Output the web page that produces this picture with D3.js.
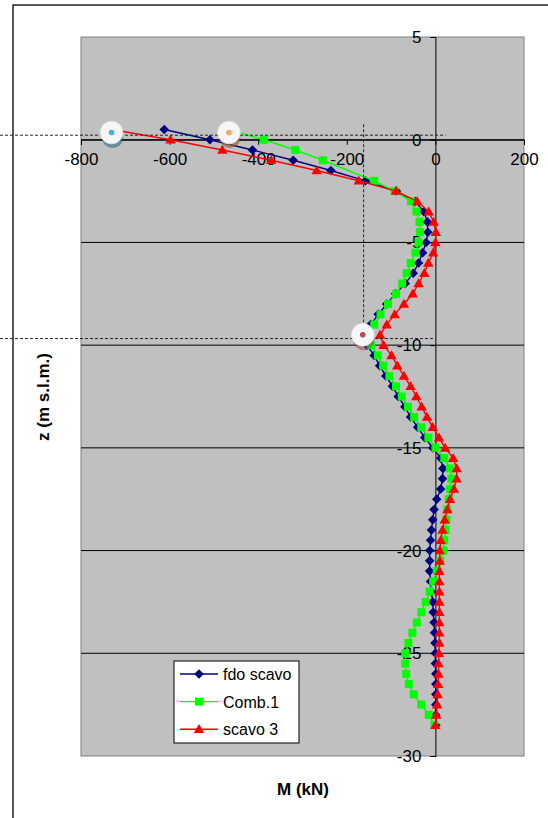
<!DOCTYPE html>
<html>
<head>
<meta charset="utf-8">
<script src="https://cdn.jsdelivr.net/npm/d3@7"></script>
<style>
  body { margin: 0; background: #fff; }
  svg { display: block; }
  text { font-family: "Liberation Sans", Arial, sans-serif; }
</style>
</head>
<body>
<svg id="chart" width="548" height="818"></svg>
<script>
// Depth levels (m s.l.m.) at which the bending moment is computed
const depths = [
  0.5, 0, -0.5, -1, -1.5, -2, -2.5, -3, -3.5, -4,
  -4.5, -5, -5.5, -6, -6.5, -7, -7.5, -8, -8.5, -9,
  -9.5, -10, -10.5, -11, -11.5, -12, -12.5, -13, -13.5, -14,
  -14.5, -15, -15.5, -16, -16.5, -17, -17.5, -18, -18.5, -19,
  -19.5, -20, -20.5, -21, -21.5, -22, -22.5, -23, -23.5, -24,
  -24.5, -25, -25.5, -26, -26.5, -27, -27.5, -28, -28.5
];

// Bending moment M (kN) per phase, one value per depth
const fdoScavo = [
  -612, -509, -413, -321, -236, -158, -88, -46, -26, -18,
  -17, -21, -29, -38, -50, -68, -90, -110, -129, -146,
  -163, -155, -138, -126, -112, -97, -84, -69, -56, -40,
  -24, -6, 12, 17, 16, 12, 3, -3, -6, -9,
  -11, -13, -13, -13, -11, -9, -6, -5, -3, -2,
  -1, 0, 0, 1, 1, 1, 1, 1, 1
];
const comb1 = [
  -470, -387, -316, -254, null, -138, -92, -55, -43, -36,
  -35, -38, -45, -56, -65, -75, -89, -107, -124, -138,
  -152, -145, -130, -118, -104, -89, -76, -62, -48, -32,
  -16, 0, 20, 33, 36, 33, 30, 27, 25, 23,
  20, 18, 11, 3, -5, -13, -22, -32, -42, -52,
  -61, -68, -68, -66, -60, -49, -32, -15, -2
];
const scavo3 = [
  -731, -598, -481, -371, -268, -173, -89, -41, -15, -4,
  1, 0, -5, -16, -25, -38, -51, -71, -92, -110,
  -125, -117, -99, -86, -71, -56, -43, -31, -19, -6,
  8, 22, 40, 48, 48, 42, 33, 27, 21, 16,
  12, 10, 10, 9, 9, 9, 9, 9, 9, 9,
  9, 8, 7, 7, 6, 5, 4, 2, 0
];

const seriesNames = ["fdo scavo", "Comb.1", "scavo 3"];
const seriesColors = ["#000080", "#00ff00", "#ff0000"];
const seriesShapes = ["diamond", "square", "triangle"];

const xTicks = [-800, -600, -400, -200, 0, 200];
const yTicks = [5, 0, -5, -10, -15, -20, -25, -30];

// Pinned reference points (M, z) with their colours
const pinM = [-731, -466, -164];
const pinZ = [0.35, 0.35, -9.5];
const pinDot = ["#4bb0d2", "#f7a35c", "#b94a4a"];
const pinShade = ["rgba(60,110,130,0.65)", "rgba(150,95,50,0.65)", "rgba(150,80,80,0.55)"];

// Guide lines: two levels and one moment value
const guideLevels = [0.22, -9.68];
const guideLevelEnds = [23, 0];
const guideMoment = -162;
const guideMomentTop = 0.75;

const svg = d3.select("#chart");

const x = d3.scaleLinear().domain([-800, 200]).range([81, 524]);
const y = d3.scaleLinear().domain([-30, 5]).range([756, 37]);

// outer chart frame (extends past the page on the right and bottom)
svg.append("rect")
  .attr("x", 13).attr("y", 5).attr("width", 700).attr("height", 900)
  .attr("fill", "#fff").attr("stroke", "#222").attr("stroke-width", 1.5);

// plot area
svg.append("rect")
  .attr("x", x(-800)).attr("y", y(5))
  .attr("width", x(200) - x(-800)).attr("height", y(-30) - y(5))
  .attr("fill", "#c0c0c0").attr("stroke", "#808080").attr("stroke-width", 1);

// horizontal gridlines
svg.append("g").selectAll("line")
  .data(yTicks.filter(t => t !== 5 && t !== -30))
  .join("line")
  .attr("x1", x(-800)).attr("x2", x(200))
  .attr("y1", d => y(d)).attr("y2", d => y(d))
  .attr("stroke", "#000").attr("stroke-width", 1);

// x axis crossing at z = 0
const xAxis = d3.axisBottom(x).tickValues(xTicks).tickSize(5).tickPadding(8)
  .tickFormat(d3.format("d"));
const gx = svg.append("g").attr("transform", `translate(0,${y(0)})`).call(xAxis);
gx.select(".domain").attr("stroke", "#000");
gx.selectAll(".tick line").attr("stroke", "#000");
gx.selectAll(".tick text").attr("font-size", 17).attr("fill", "#000")
  .attr("font-family", "'Liberation Sans', Arial, sans-serif")
  .text(d => d < 0 ? "-" + Math.abs(d) : d);

// y axis crossing at M = 0
const yAxis = d3.axisLeft(y).tickValues(yTicks).tickSize(5).tickPadding(9);
const gy = svg.append("g").attr("transform", `translate(${x(0)},0)`).call(yAxis);
gy.select(".domain").attr("stroke", "#000");
gy.selectAll(".tick line").attr("stroke", "#000");
gy.selectAll(".tick text").attr("font-size", 17).attr("fill", "#000")
  .attr("font-family", "'Liberation Sans', Arial, sans-serif")
  .text(d => d < 0 ? "-" + Math.abs(d) : d);

// marker shapes
function markerPath(shape) {
  if (shape === "diamond") return "M0,-4.8L4.8,0L0,4.8L-4.8,0Z";
  if (shape === "square") return "M-4,-4H4V4H-4Z";
  return "M0,-5.2L5.2,3.8H-5.2Z";
}

const allSeries = [fdoScavo, comb1, scavo3];
const line = d3.line().x(d => x(d.m)).y(d => y(d.z));

allSeries.forEach((vals, i) => {
  const pts = depths.map((z, k) => ({ z, m: vals[k] })).filter(p => p.m !== null);
  const g = svg.append("g");
  g.append("path").datum(pts)
    .attr("d", line).attr("fill", "none")
    .attr("stroke", seriesColors[i]).attr("stroke-width", 1.4);
  g.selectAll("path.mk").data(pts).join("path").attr("class", "mk")
    .attr("d", markerPath(seriesShapes[i]))
    .attr("transform", d => `translate(${x(d.m)},${y(d.z)})`)
    .attr("fill", seriesColors[i]);
});

// dotted guide lines
const guides = svg.append("g").attr("stroke", "#222").attr("stroke-width", 1)
  .attr("stroke-dasharray", "3,2");
guideLevels.forEach((lv, i) => {
  guides.append("line")
    .attr("x1", 0).attr("x2", x(guideLevelEnds[i]))
    .attr("y1", y(lv)).attr("y2", y(lv));
});
guides.append("line")
  .attr("x1", x(guideMoment)).attr("x2", x(guideMoment))
  .attr("y1", y(guideMomentTop)).attr("y2", y(pinZ[2]));

// pinned points
pinM.forEach((m, i) => {
  const cx = x(m), cy = y(pinZ[i]);
  svg.append("circle").attr("cx", cx + 1).attr("cy", cy + 5).attr("r", 10.5)
    .attr("fill", pinShade[i]);
  svg.append("circle").attr("cx", cx).attr("cy", cy).attr("r", 11.3)
    .attr("fill", "#f6f6f6").attr("stroke", "#e4e4e4").attr("stroke-width", 0.8);
  svg.append("circle").attr("cx", cx).attr("cy", cy).attr("r", 2.8)
    .attr("fill", pinDot[i]);
});

// legend
const lg = svg.append("g");
lg.append("rect").attr("x", 174).attr("y", 661).attr("width", 125).attr("height", 82)
  .attr("fill", "#fff").attr("stroke", "#000").attr("stroke-width", 1);
seriesNames.forEach((name, i) => {
  const cy = 674 + i * 27.6;
  lg.append("line").attr("x1", 180).attr("x2", 218).attr("y1", cy).attr("y2", cy)
    .attr("stroke", seriesColors[i]).attr("stroke-width", 1.4);
  lg.append("path").attr("d", markerPath(seriesShapes[i]))
    .attr("transform", `translate(199,${cy})`).attr("fill", seriesColors[i]);
  lg.append("text").attr("x", 223).attr("y", cy + 6)
    .attr("font-size", 16).attr("fill", "#000").text(name);
});

// axis titles
svg.append("text").attr("x", 303).attr("y", 795).attr("text-anchor", "middle")
  .attr("font-size", 17).attr("font-weight", "bold").attr("fill", "#000")
  .text("M (kN)");
svg.append("text").attr("transform", "translate(49,397) rotate(-90)")
  .attr("text-anchor", "middle").attr("font-size", 17).attr("font-weight", "bold")
  .attr("fill", "#000").text("z (m s.l.m.)");
</script>
</body>
</html>
